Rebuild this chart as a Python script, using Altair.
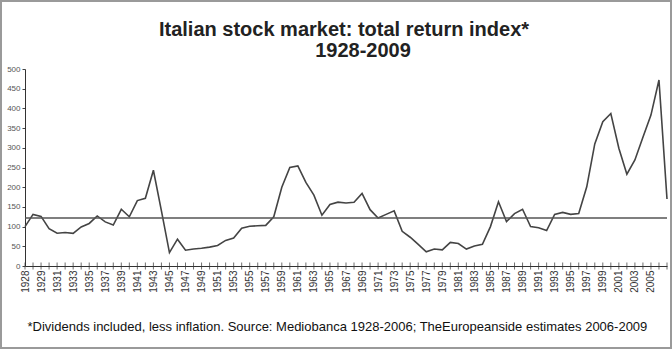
import json
import altair as alt
import pandas as pd

# Category labels (first point = base of 1928, then year ends)
year_labels = ["1928", "1928"] + [str(y) for y in range(1929, 2008)]

# Total return index values
index_values = [
    100, 131, 126, 95, 83, 85, 83, 99, 108, 127,
    112, 104, 144, 125, 166, 172, 243, 140, 34, 68,
    40, 43, 45, 48, 52, 65, 71, 96, 101, 102,
    103, 125, 200, 250, 254, 212, 180, 129, 156, 162,
    160, 162, 184, 143, 122, 131, 140, 88, 73, 55,
    36, 43, 41, 60, 57, 43, 51, 55, 100, 163,
    113, 133, 144, 100, 97, 90, 131, 136, 131, 133,
    201, 310, 366, 387, 299, 233, 269, 327, 383, 472,
    170,
]

average_level = [122]
y_ticks = [0, 50, 100, 150, 200, 250, 300, 350, 400, 450, 500]

title_lines = ["Italian stock market: total return index*", "1928-2009"]
footnote = ("*Dividends included, less inflation. Source: Mediobanca 1928-2006; "
            "TheEuropeanside estimates 2006-2009")

n = len(index_values)
df = pd.DataFrame({"idx": list(range(n)), "label": year_labels[:n], "value": index_values})
avg_df = pd.DataFrame({"avg": average_level})

label_expr = json.dumps(year_labels) + "[datum.value]"

FONT = "Liberation Sans"
W, H = 642, 197

x_scale = alt.Scale(domain=[0, n - 1], nice=False, zero=False)
y_scale = alt.Scale(domain=[0, 500], nice=False)

x_axis = alt.Axis(
    values=list(range(0, n - 1, 2)),
    labelExpr=label_expr,
    labelAngle=-90,
    labelFontSize=10,
    labelFont=FONT,
    labelColor="#333",
    labelPadding=4,
    labelOverlap=False,
    labelFlush=False,
    ticks=False,
    domainColor="#333",
    domainWidth=1,
    grid=False,
    title=footnote,
    titleFont=FONT,
    titleFontSize=13,
    titleFontWeight="normal",
    titleColor="#111",
    titleAlign="left",
    titleBaseline="alphabetic",
    titleX=2,
    titleY=64,
)

y_axis = alt.Axis(
    values=y_ticks,
    labelFontSize=8,
    labelFont=FONT,
    labelColor="#555",
    labelPadding=2,
    labelOverlap=False,
    tickSize=3,
    tickColor="#444",
    domainColor="#333",
    grid=False,
    title=None,
)

line = alt.Chart(df).mark_line(color="#444", strokeWidth=1.6).encode(
    x=alt.X("idx:Q", scale=x_scale, axis=x_axis),
    y=alt.Y("value:Q", scale=y_scale, axis=y_axis),
)

ticks = alt.Chart(df).mark_tick(orient="vertical", size=7, thickness=1, color="#333").encode(
    x=alt.X("idx:Q", scale=x_scale, axis=x_axis),
    y=alt.datum(0, scale=y_scale, axis=y_axis),
)

avg_rule = alt.Chart(avg_df).mark_rule(color="#555", strokeWidth=1.6).encode(
    y=alt.Y("avg:Q", scale=y_scale, axis=y_axis)
)

title_df = pd.DataFrame({"t": title_lines})
title1 = alt.Chart(title_df.iloc[[0]]).mark_text(
    font=FONT, fontSize=20, fontWeight="bold", color="#222", align="center",
    baseline="alphabetic", clip=False
).encode(x=alt.value(319), y=alt.value(-33), text="t:N")
title2 = alt.Chart(title_df.iloc[[1]]).mark_text(
    font=FONT, fontSize=20, fontWeight="bold", color="#222", align="center",
    baseline="alphabetic", clip=False
).encode(x=alt.value(338), y=alt.value(-12), text="t:N")

frame = alt.Chart(avg_df).mark_rect(
    fill=None, filled=False, stroke="#9a9a9a", strokeWidth=2, clip=False
).encode(
    x=alt.value(-24), x2=alt.value(W + 4), y=alt.value(-68), y2=alt.value(H + 82)
)

chart = (
    alt.layer(line, avg_rule, ticks, title1, title2, frame)
    .properties(
        width=W,
        height=H,
        autosize=alt.AutoSizeParams(type="none"),
        padding={"left": 25, "top": 69, "right": 5, "bottom": 85},
        background="white",
    )
    .configure_view(stroke=None)
)

chart.save("out.html", embed_options={"renderer": "svg", "actions": False})
